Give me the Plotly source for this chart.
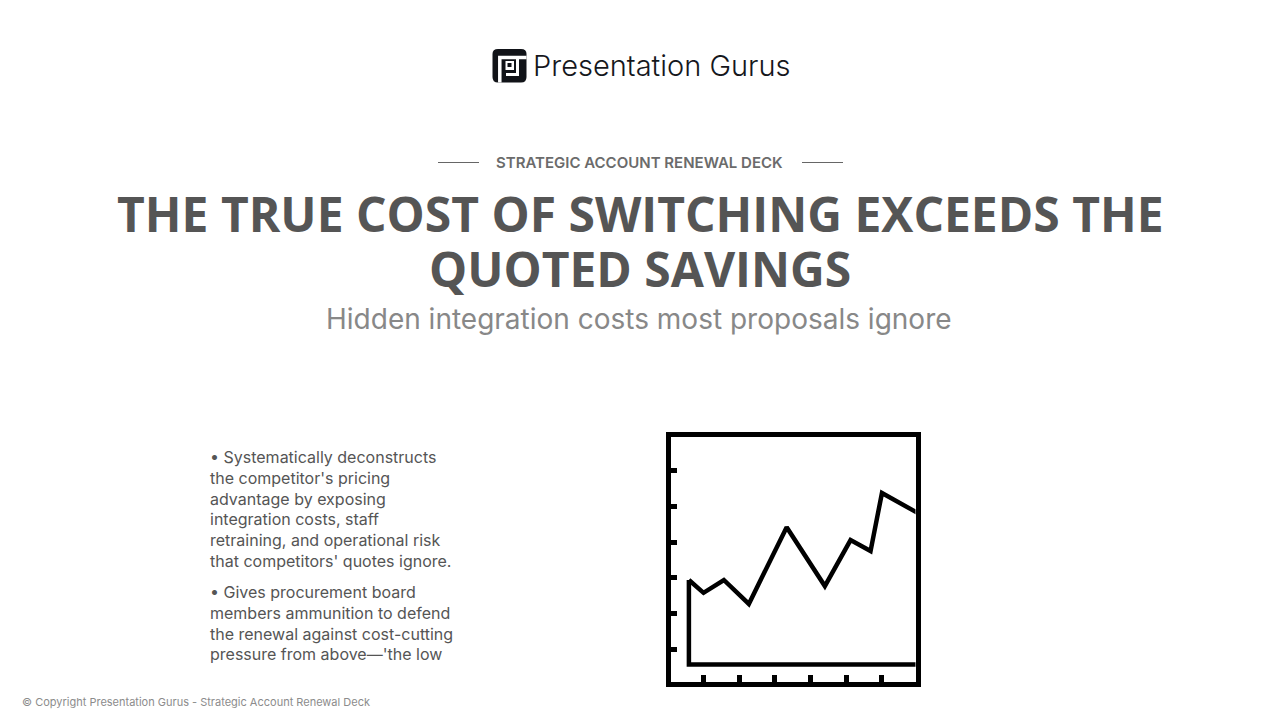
import plotly.graph_objects as go

# line chart values
x_vals = [0.59, 1.0, 1.57, 2.27, 3.33, 4.4, 5.12, 5.68, 6.0, 7.0]
y_vals = [2.94, 2.58, 2.94, 2.27, 4.42, 2.77, 4.06, 3.75, 5.38, 4.82]
base_x = [0.59, 0.59, 7.0]
base_y = [2.94, 0.57, 0.57]
tick_vals = [1, 2, 3, 4, 5, 6]

brand = 'Presentation Gurus'
kicker = 'STRATEGIC ACCOUNT RENEWAL DECK'
title_lines = ['THE TRUE COST OF SWITCHING EXCEEDS THE', 'QUOTED SAVINGS']
subtitle = 'Hidden integration costs most proposals ignore'
bullet_1 = ['• Systematically deconstructs', 'the competitor\'s pricing', 'advantage by exposing',
            'integration costs, staff', 'retraining, and operational risk', 'that competitors\' quotes ignore.']
bullet_2 = ['• Gives procurement board', 'members ammunition to defend', 'the renewal against cost-cutting',
            'pressure from above—\'the low']
footer = '© Copyright Presentation Gurus - Strategic Account Renewal Deck'

W, H = 1280, 720


def page_text(x, y, text, size, color, family='Inter, sans-serif', weight=400, anchor='left'):
    return dict(x=x, y=y, xref='x', yref='y', text=text, showarrow=False, xanchor=anchor, yanchor='middle',
                align=anchor, font=dict(size=size, color=color, family=family, weight=weight))


annotations = [
    page_text(531, 65.5, brand, 29, '#15171c', weight=300),
    page_text(639.5, 162.5, kicker, 15, '#6b6b6b', weight=600, anchor='center'),
    page_text(640, 213.5, title_lines[0], 48, '#555555', family='Open Sans', weight=700, anchor='center'),
    page_text(640, 268, title_lines[1], 48, '#555555', family='Open Sans', weight=700, anchor='center'),
    page_text(639, 319, subtitle, 28, '#888888', anchor='center'),
    page_text(208, 508.5, '<br>'.join(bullet_1), 16, '#555555'),
    page_text(208, 623, '<br>'.join(bullet_2), 16, '#555555'),
    page_text(20, 702, footer, 11, '#8c8c8c'),
]


def page_shape(kind, x0, y0, x1, y1, **kw):
    return dict(type=kind, xref='x', yref='y', x0=x0, y0=y0, x1=x1, y1=y1, **kw)


shapes = [
    # rules either side of the kicker
    page_shape('line', 438, 162.5, 479, 162.5, line=dict(color='#666666', width=1)),
    page_shape('line', 802, 162.5, 843, 162.5, line=dict(color='#666666', width=1)),
    # logo mark
    dict(type='path', xref='x', yref='y', fillcolor='#111318', line=dict(width=0),
         path='M 498 49 L 521 49 Q 526.5 49 526.5 54 L 526.5 77 Q 526.5 82.5 521 82.5 L 498 82.5 '
              'Q 492.5 82.5 492.5 77 L 492.5 54 Q 492.5 49 498 49 Z'),
    dict(type='path', xref='x', yref='y', line=dict(color='white', width=3.5),
         path='M 526.5 57.5 L 499.8 57.5 L 499.8 82.5'),
    dict(type='path', xref='x', yref='y', line=dict(color='white', width=3),
         path='M 506 74.5 L 517.5 74.5 L 517.5 57.5'),
    dict(type='path', xref='x', yref='y', fillcolor='white', line=dict(width=0),
         path='M 505.5 61 L 514 61 L 514 70 L 505.5 70 Z'),
    dict(type='path', xref='x', yref='y', fillcolor='#111318', line=dict(width=0),
         path='M 507.5 63 L 511.5 63 L 511.5 67 L 507.5 67 Z'),
]

fig = go.Figure()
# invisible trace keeps the full page axes alive for the texts and the logo
fig.add_trace(go.Scatter(x=[0], y=[0], mode='markers', marker=dict(opacity=0)))
fig.add_trace(go.Scatter(x=x_vals, y=y_vals, xaxis='x2', yaxis='y2', mode='lines',
                         line=dict(color='black', width=4.5)))
fig.add_trace(go.Scatter(x=base_x, y=base_y, xaxis='x2', yaxis='y2', mode='lines',
                         line=dict(color='black', width=4.5)))

axis_style = dict(showgrid=False, zeroline=False, showline=True, mirror=True, linecolor='black', linewidth=4.5,
                  ticks='inside', ticklen=7, tickwidth=4.5, tickcolor='black', tickvals=tick_vals,
                  showticklabels=False, range=[0.08, 6.94])

fig.update_layout(
    width=W, height=H, autosize=False, showlegend=False,
    paper_bgcolor='white', plot_bgcolor='rgba(0,0,0,0)',
    margin=dict(l=0, r=0, t=0, b=0),
    xaxis=dict(domain=[0, 1], range=[0, W], visible=False, fixedrange=True),
    yaxis=dict(domain=[0, 1], range=[H, 0], visible=False, fixedrange=True),
    xaxis2=dict(domain=[670.7 / W, 915.5 / W], anchor='y2', **axis_style),
    yaxis2=dict(domain=[1 - 682 / H, 1 - 437.3 / H], anchor='x2', **axis_style),
    annotations=annotations, shapes=shapes,
)

fig.write_html("out.html", config=dict(displayModeBar=False),
               post_script="document.body.style.margin='0';document.body.style.overflow='hidden';")
